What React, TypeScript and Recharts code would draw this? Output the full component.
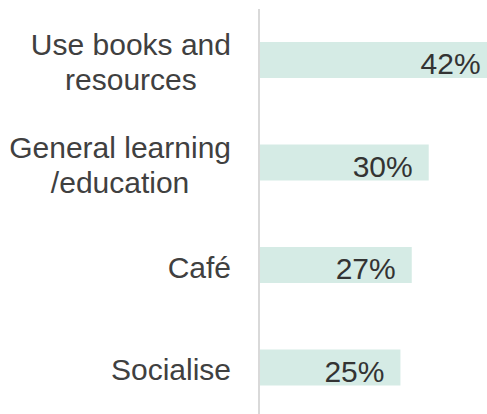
import React from "react";
import { BarChart, Bar, XAxis, YAxis, LabelList } from "recharts";

const categories = ["Use books and\nresources", "General learning\n/education", "Café", "Socialise"];
const values = [42, 30, 27, 25];
const valueLabels = ["42%", "30%", "27%", "25%"];

const data = categories.map((name, i) => ({ name, value: values[i], label: valueLabels[i] }));

const FONT = "'Liberation Sans', Arial, sans-serif";
const TICK_SIZE = 30;

let ctx: CanvasRenderingContext2D | null = null;
const measure = (s: string) => {
  if (typeof document === "undefined") return s.length * TICK_SIZE * 0.5;
  if (!ctx) {
    const c = document.createElement("canvas");
    ctx = c.getContext("2d");
  }
  if (!ctx) return s.length * TICK_SIZE * 0.5;
  ctx.font = `${TICK_SIZE}px 'Liberation Sans', Arial, sans-serif`;
  return ctx.measureText(s).width;
};

const CategoryTick = (props: any) => {
  const { x, y, payload } = props;
  const lines = String(payload.value).split("\n");
  const lh = 35;
  const maxW = Math.max(...lines.map(measure));
  const cx = x - maxW / 2;
  return (
    <text x={cx} y={y} textAnchor="middle" fill="#404040" fontSize={TICK_SIZE} fontFamily={FONT}>
      {lines.map((ln, i) => (
        <tspan key={i} x={cx} y={y + (i - (lines.length - 1) / 2) * lh + 12.5}>
          {ln}
        </tspan>
      ))}
    </text>
  );
};

const ValueLabel = (props: any) => {
  const { x, y, width, height, value } = props;
  return (
    <text
      x={x + width - 16}
      y={y + height / 2 + 14}
      textAnchor="end"
      fill="#333333"
      fontSize={30}
      fontFamily={FONT}
    >
      {value}
    </text>
  );
};

export default function App() {
  return (
    <div
      style={{
        position: "absolute",
        left: 0,
        top: 0,
        width: 487,
        height: 414,
        overflow: "hidden",
        background: "#ffffff",
      }}
    >
      <BarChart
        width={500}
        height={419}
        data={data}
        layout="vertical"
        margin={{ top: 9, right: 0, bottom: 0, left: 0 }}
      >
        <XAxis type="number" domain={[0, 42.6]} hide />
        <YAxis
          type="category"
          dataKey="name"
          width={259}
          axisLine={{ stroke: "#d9d9d9", strokeWidth: 2 }}
          tickLine={false}
          tickSize={0}
          tickMargin={28}
          tick={<CategoryTick />}
          interval={0}
        />
        <Bar dataKey="value" fill="#d5ebe5" barSize={36} isAnimationActive={false}>
          <LabelList dataKey="label" content={<ValueLabel />} />
        </Bar>
      </BarChart>
    </div>
  );
}
